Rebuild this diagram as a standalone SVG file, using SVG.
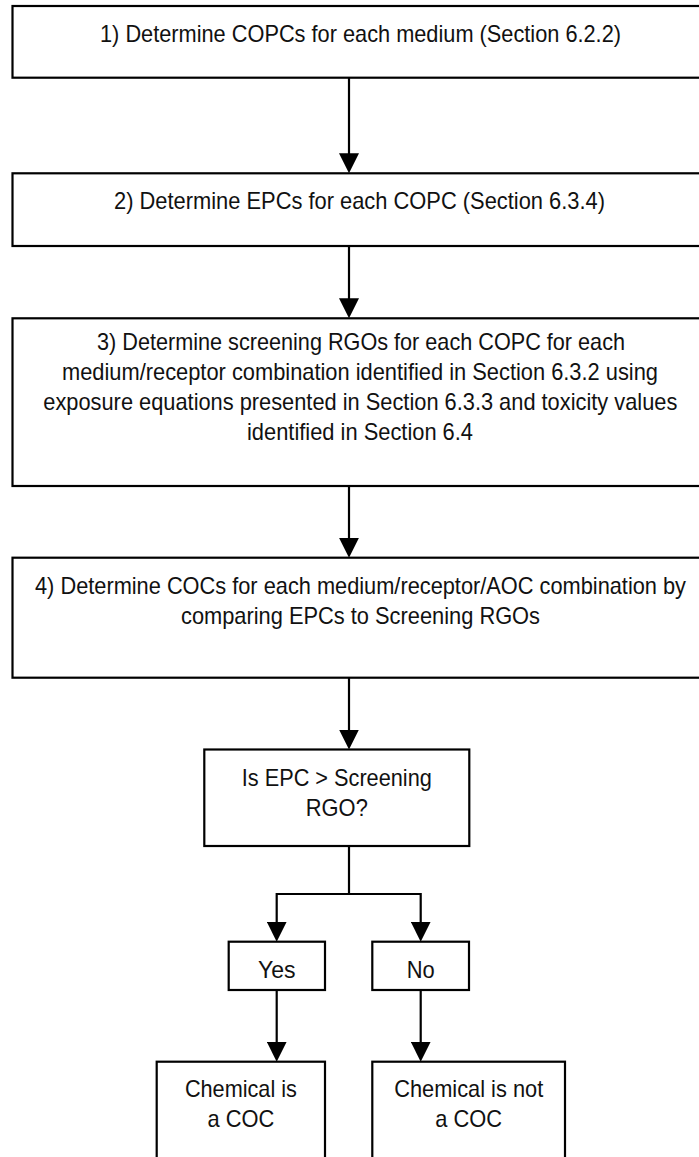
<svg xmlns="http://www.w3.org/2000/svg" width="699" height="1157" viewBox="0 0 699 1157">
<style>
.box{fill:#fff;stroke:#000;stroke-width:2.2}
.conn{fill:none;stroke:#000;stroke-width:2.2}
.t{font-family:"Liberation Sans",Arial,sans-serif;font-size:24px;fill:#111;text-anchor:middle}
</style>
<defs>
<marker id="ah" markerUnits="userSpaceOnUse" markerWidth="20" markerHeight="20" viewBox="0 0 20 20" refX="10" refY="10" orient="auto">
<path d="M0,0 L20,10 L0,20 z" fill="#000"/>
</marker>
</defs>
<rect x="0" y="0" width="699" height="1157" fill="#fff"/>
<g id="connectors">
<path class="conn" d="M349,77.7 V163.3" marker-end="url(#ah)"/>
<path class="conn" d="M349,246 V308.3" marker-end="url(#ah)"/>
<path class="conn" d="M349,486 V547.7" marker-end="url(#ah)"/>
<path class="conn" d="M349,677.7 V739.5" marker-end="url(#ah)"/>
<path class="conn" d="M349,846 V894 H276.7 V931.7" marker-end="url(#ah)"/>
<path class="conn" d="M349,894 H420.7 V931.7" marker-end="url(#ah)"/>
<path class="conn" d="M276.7,990 V1051.7" marker-end="url(#ah)"/>
<path class="conn" d="M420.7,990 V1051.7" marker-end="url(#ah)"/>
</g>
<g id="step1">
<rect class="box" x="12.5" y="6" width="696" height="71.7"/>
<text class="t" x="360.5" y="42" textLength="521" lengthAdjust="spacingAndGlyphs">1) Determine COPCs for each medium (Section 6.2.2)</text>
</g>
<g id="step2">
<rect class="box" x="12.5" y="173.3" width="696" height="72.7"/>
<text class="t" x="359.5" y="209" textLength="491" lengthAdjust="spacingAndGlyphs">2) Determine EPCs for each COPC (Section 6.3.4)</text>
</g>
<g id="step3">
<rect class="box" x="12.5" y="318.3" width="696" height="167.7"/>
<text class="t" x="361" y="350" textLength="528" lengthAdjust="spacingAndGlyphs">3) Determine screening RGOs for each COPC for each</text>
<text class="t" x="360" y="380" textLength="596" lengthAdjust="spacingAndGlyphs">medium/receptor combination identified in Section 6.3.2 using</text>
<text class="t" x="360.3" y="410" textLength="634" lengthAdjust="spacingAndGlyphs">exposure equations presented in Section 6.3.3 and toxicity values</text>
<text class="t" x="360" y="440" textLength="226" lengthAdjust="spacingAndGlyphs">identified in Section 6.4</text>
</g>
<g id="step4">
<rect class="box" x="12.5" y="557.7" width="696" height="120"/>
<text class="t" x="360.5" y="593.5" textLength="651" lengthAdjust="spacingAndGlyphs">4) Determine COCs for each medium/receptor/AOC combination by</text>
<text class="t" x="360.5" y="623.5" textLength="359" lengthAdjust="spacingAndGlyphs">comparing EPCs to Screening RGOs</text>
</g>
<g id="decision">
<rect class="box" x="204.3" y="749.5" width="265" height="96.5"/>
<text class="t" x="336.8" y="786" textLength="190" lengthAdjust="spacingAndGlyphs">Is EPC &gt; Screening</text>
<text class="t" x="336.8" y="816" textLength="62" lengthAdjust="spacingAndGlyphs">RGO?</text>
</g>
<g id="yes">
<rect class="box" x="228.7" y="941.7" width="96.3" height="48.3"/>
<text class="t" x="276.8" y="978" textLength="37.6" lengthAdjust="spacingAndGlyphs">Yes</text>
</g>
<g id="no">
<rect class="box" x="372.3" y="941.7" width="96.7" height="48.3"/>
<text class="t" x="420.7" y="978" textLength="28" lengthAdjust="spacingAndGlyphs">No</text>
</g>
<g id="is-coc">
<rect class="box" x="156.7" y="1061.7" width="168.3" height="110"/>
<text class="t" x="240.9" y="1097.3" textLength="112" lengthAdjust="spacingAndGlyphs">Chemical is</text>
<text class="t" x="240.9" y="1127.3" textLength="66.8" lengthAdjust="spacingAndGlyphs">a COC</text>
</g>
<g id="not-coc">
<rect class="box" x="372.3" y="1061.7" width="192.7" height="110"/>
<text class="t" x="468.7" y="1097.3" textLength="149" lengthAdjust="spacingAndGlyphs">Chemical is not</text>
<text class="t" x="468.7" y="1127.3" textLength="66.8" lengthAdjust="spacingAndGlyphs">a COC</text>
</g>
</svg>
